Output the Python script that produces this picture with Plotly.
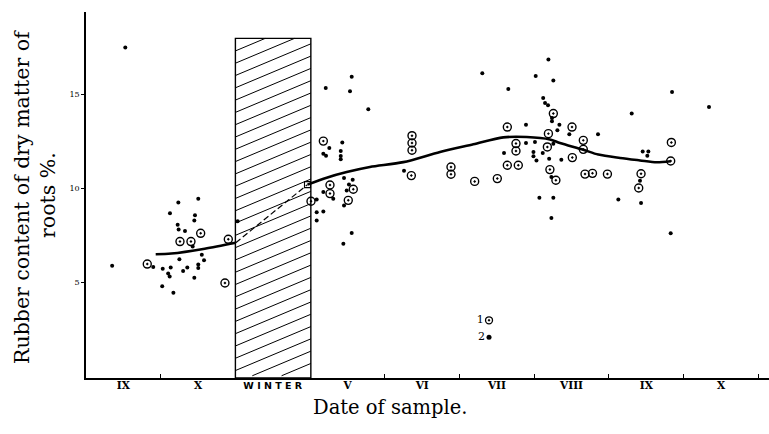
import numpy as np
import plotly.graph_objects as go

# Month slots along the x-axis: one unit per month, the winter gap takes one slot
month_labels = ["IX", "X", "WINTER", "V", "VI", "VII", "VIII", "IX", "X"]
month_centres = [0.5, 1.5, 2.5, 3.5, 4.5, 5.5, 6.5, 7.5, 8.5]
month_bounds = [1, 4, 5, 6, 7, 8, 9]

winter_start, winter_end, winter_top = 2.0, 3.01, 18.0
y_ticks = [5, 10, 15]

# Samples of kind 1 (circled): month position, rubber content %
kind1_x = [0.82, 1.258, 1.405, 1.535, 1.905, 1.86,
           3.012, 3.177, 3.266, 3.266, 3.578, 3.511,
           4.364, 4.364, 4.364, 4.355, 4.886, 4.886, 5.203, 5.506,
           5.64, 5.756, 5.756, 5.64, 5.787,
           6.256, 6.506, 6.19, 6.176, 6.51, 6.657, 6.657,
           6.21, 6.29, 6.68, 6.78, 6.98,
           7.43, 7.399, 7.836, 7.827]
kind1_y = [5.96, 7.16, 7.16, 7.60, 7.28, 4.95,
           9.31, 12.52, 10.18, 9.72, 9.95, 9.36,
           12.81, 12.42, 12.03, 10.68, 11.14, 10.75, 10.37, 10.52,
           13.27, 12.39, 11.99, 11.23, 11.23,
           13.99, 13.27, 12.92, 12.21, 11.64, 12.56, 12.08,
           11.00, 10.43, 10.76, 10.80, 10.76,
           10.78, 10.02, 12.45, 11.46]

# Samples of kind 2 (dots): month position, rubber content %
kind2_x = [0.526, 0.35,
           1.236, 1.503, 1.124, 1.459, 1.45, 1.227, 1.24, 1.325, 1.428,
           0.90, 1.25, 1.55, 1.58, 1.027, 1.134, 1.356, 1.503, 1.503, 1.30,
           1.10, 1.12, 1.45, 1.02, 1.17, 2.03,
           3.209, 3.557, 3.534, 3.779, 3.257, 3.177, 3.213, 3.431, 3.41, 3.41, 3.41,
           3.177, 3.31, 3.454, 3.52, 3.57, 3.49, 3.454, 3.088, 3.088, 3.177, 3.088,
           3.557, 3.445, 4.257,
           5.305, 5.653, 6.02, 6.19, 5.89, 5.596, 5.89, 6.01, 5.99, 5.99, 6.03,
           6.12, 6.145, 6.185, 6.069,
           6.256, 6.238, 6.238, 6.337, 6.31, 6.47, 6.114, 6.256, 6.20, 6.363,
           6.854, 6.23, 6.256, 6.23,
           7.305, 7.452, 7.528, 7.514, 7.845, 8.34, 7.416, 7.126, 7.43, 7.827]
kind2_y = [17.52, 5.87,
           9.24, 9.45, 8.67, 8.56, 8.29, 8.06, 7.81, 7.72, 6.90,
           5.80, 6.21, 6.46, 6.16, 5.71, 5.78, 5.78, 5.94, 5.75, 5.59,
           5.45, 5.30, 5.23, 4.77, 4.43, 8.25,
           15.35, 15.96, 15.18, 14.22, 12.15, 11.85, 11.74, 12.44, 11.99, 11.72, 11.55,
           9.80, 9.45, 10.55, 10.20, 10.46, 9.89, 9.09, 9.40, 8.72, 8.77, 8.29,
           7.62, 7.05, 10.94,
           16.14, 15.30, 15.99, 16.88, 13.40, 11.88, 12.42, 12.47, 11.94, 11.71, 11.49,
           14.82, 14.55, 14.43, 9.50,
           15.76, 13.76, 13.58, 13.40, 13.10, 12.88, 11.88, 12.38, 11.58, 11.53,
           12.88, 10.60, 9.50, 8.42,
           13.99, 11.97, 11.97, 11.74, 15.14, 14.34, 10.41, 9.41, 9.22, 7.60]

# Smoothed course of the rubber content
autumn_curve_x = [0.933, 1.142, 1.589, 2.005]
autumn_curve_y = [6.48, 6.52, 6.78, 7.10]
winter_link_x = [2.005, 2.965]
winter_link_y = [7.10, 10.20]
summer_curve_x = [2.965, 3.222, 3.49, 3.80, 4.248, 4.739, 5.185, 5.586, 5.90,
                  6.21, 6.345, 6.657, 6.858, 7.149, 7.416, 7.64, 7.827]
summer_curve_y = [10.20, 10.57, 10.87, 11.14, 11.40, 11.94, 12.35, 12.72, 12.74,
                  12.61, 12.42, 12.06, 11.80, 11.62, 11.49, 11.39, 11.45]

# Key for the two kinds of sample
key_x = [5.395, 5.395]
key_y = [2.96, 2.05]
key_labels = ["1", "2"]

SERIF = "DejaVu Serif"
INK = "black"

x_range = [0, 9.143]
y_range = [-0.12, 19.41]

fig = go.Figure()

# Hatching of the winter gap: shallow diagonal strokes clipped to the box
slope = 1.674      # data units of y per unit of x
step = 0.656       # vertical spacing between strokes
hx, hy = [], []
w = winter_end - winter_start
c = -slope * w
while c < winter_top:
    x_lo = max(winter_start, winter_start + (0 - c) / slope)
    x_hi = min(winter_end, winter_start + (winter_top - c) / slope)
    if x_lo < x_hi:
        hx += [x_lo, x_hi, None]
        hy += [c + slope * (x_lo - winter_start), c + slope * (x_hi - winter_start), None]
    c += step
fig.add_trace(go.Scatter(x=hx, y=hy, mode="lines",
                         line=dict(color=INK, width=1), hoverinfo="skip"))

fig.add_shape(type="rect", x0=winter_start, x1=winter_end, y0=y_range[0], y1=winter_top,
              line=dict(color=INK, width=1.4), fillcolor="rgba(0,0,0,0)")

# Trend lines
fig.add_trace(go.Scatter(x=autumn_curve_x, y=autumn_curve_y, mode="lines",
                         line=dict(color=INK, width=2.6, shape="spline", smoothing=0.8)))
fig.add_trace(go.Scatter(x=winter_link_x, y=winter_link_y, mode="lines",
                         line=dict(color=INK, width=1.2, dash="6px,3px")))
fig.add_trace(go.Scatter(x=summer_curve_x, y=summer_curve_y, mode="lines",
                         line=dict(color=INK, width=2.6, shape="spline", smoothing=0.8)))
fig.add_trace(go.Scatter(x=[summer_curve_x[0]], y=[summer_curve_y[0]], mode="markers",
                         marker=dict(symbol="square-open", size=6, color=INK,
                                     line=dict(width=1.1))))

# Individual samples
fig.add_trace(go.Scatter(x=kind1_x, y=kind1_y, mode="markers",
                         marker=dict(symbol="circle-open-dot", size=8, color=INK,
                                     line=dict(width=1.4))))
fig.add_trace(go.Scatter(x=kind2_x, y=kind2_y, mode="markers",
                         marker=dict(symbol="circle", size=4, color=INK, line=dict(width=0))))

# Key
fig.add_trace(go.Scatter(x=key_x[:1], y=key_y[:1], mode="markers+text",
                         text=key_labels[:1], textposition="middle left",
                         textfont=dict(family=SERIF, size=11, color=INK),
                         marker=dict(symbol="circle-open-dot", size=7, color=INK,
                                     line=dict(width=1.3))))
fig.add_trace(go.Scatter(x=key_x[1:], y=key_y[1:], mode="markers+text",
                         text=key_labels[1:], textposition="middle left",
                         textfont=dict(family=SERIF, size=11, color=INK),
                         marker=dict(symbol="circle", size=5, color=INK)))

tick_text = []
for lab in month_labels:
    if lab == "WINTER":
        tick_text.append("<span style='font-family:DejaVu Sans;font-size:9.5px'><b>"
                         + " ".join(lab) + "</b></span>")
    else:
        tick_text.append("<b>" + lab + "</b>")

fig.update_xaxes(range=x_range, showgrid=False, zeroline=False,
                 showline=True, linecolor=INK, linewidth=1.6,
                 tickmode="array", tickvals=month_centres, ticktext=tick_text,
                 ticks="", tickfont=dict(family=SERIF, size=10.5, color=INK),
                 ticklabelstandoff=-3,
                 minor=dict(tickmode="array", tickvals=month_bounds, ticks="inside",
                            ticklen=4, tickcolor=INK, tickwidth=1.2))
fig.update_yaxes(range=y_range, showgrid=False, zeroline=False,
                 showline=True, linecolor=INK, linewidth=1.6,
                 tickmode="array", tickvals=y_ticks, ticktext=[str(v) for v in y_ticks],
                 ticks="outside", ticklen=3, tickcolor=INK, tickwidth=1,
                 tickfont=dict(family=SERIF, size=8, color=INK))

# Axis titles
fig.add_annotation(text="Rubber content of dry matter of", xref="paper", yref="paper",
                   x=(22 - 86) / 683, y=(378 - 197) / 366, xanchor="center", yanchor="middle",
                   textangle=-90, showarrow=False,
                   font=dict(family=SERIF, size=20.5, color=INK))
fig.add_annotation(text="roots %.", xref="paper", yref="paper",
                   x=(48 - 86) / 683, y=(378 - 195) / 366, xanchor="center", yanchor="middle",
                   textangle=-90, showarrow=False,
                   font=dict(family=SERIF, size=20.5, color=INK))
fig.add_annotation(text="Date of sample.", xref="paper", yref="paper",
                   x=(390 - 86) / 683, y=(378 - 407) / 366, xanchor="center", yanchor="middle",
                   showarrow=False, font=dict(family=SERIF, size=19.5, color=INK))

fig.update_layout(width=769, height=434, margin=dict(l=86, r=0, t=12, b=56),
                  paper_bgcolor="white", plot_bgcolor="white", showlegend=False)

fig.write_html("out.html")
